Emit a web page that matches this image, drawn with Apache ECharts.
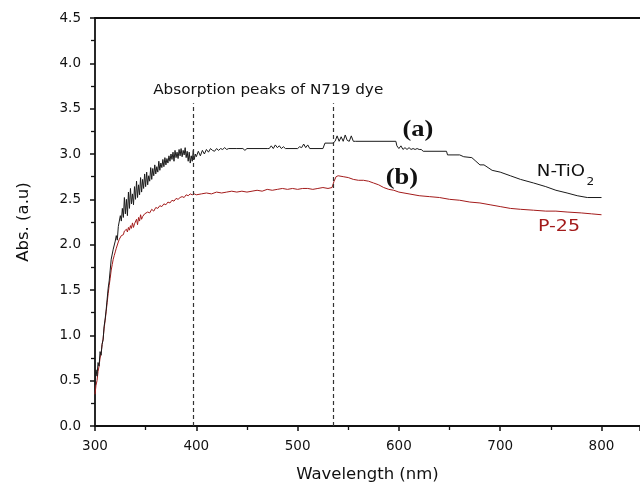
<!DOCTYPE html>
<html>
<head>
<meta charset="utf-8">
<script src="https://cdn.jsdelivr.net/npm/echarts@6/dist/echarts.min.js"></script>
<style>
html,body{margin:0;padding:0;background:#fff;}
#main{width:640px;height:482px;}
</style>
</head>
<body>
<div id="main"></div>
<script>
// N-TiO2 (a) : [wavelength nm, absorbance]
var ntio2_data = [
	[300,0.45],[301,0.62],[302,0.55],[303,0.70],[304,0.66],[305,0.82],[306,0.78],[307,0.90],[308,0.95],[309,1.10],
	[310,1.18],[311,1.28],[312,1.40],[313,1.52],[314,1.60],[315,1.72],[316,1.84],[317,1.82],[318,1.95],[319,1.93],
	[320,2.04],[321,2.10],[322,2.05],[323,2.20],[324,2.18],[325,2.32],[326,2.26],[327,2.40],[328,2.30],[329,2.52],
	[330,2.34],[331,2.50],[332,2.32],[333,2.58],[334,2.40],[335,2.62],[336,2.45],[337,2.56],[338,2.44],[339,2.64],
	[340,2.50],[341,2.70],[342,2.52],[343,2.66],[344,2.55],[345,2.74],[346,2.58],[347,2.72],[348,2.62],[349,2.78],
	[350,2.64],[351,2.80],[352,2.66],[353,2.76],[354,2.70],[355,2.85],[356,2.72],[357,2.84],[358,2.76],[359,2.88],
	[360,2.78],[361,2.86],[362,2.80],[363,2.92],[364,2.82],[365,2.90],[366,2.85],[367,2.94],[368,2.86],[369,2.96],
	[370,2.88],[371,2.95],[372,2.90],[373,2.98],[374,2.92],[375,3.00],[376,2.94],[377,3.02],[378,2.92],[379,3.04],
	[380,2.96],[381,3.02],[382,2.95],[383,3.05],[384,2.98],[385,3.06],[386,2.97],[387,3.04],[388,2.99],[389,3.07],
	[390,2.96],[391,3.03],[392,2.92],[393,3.02],[394,2.90],[395,2.98],[396,2.92],[397,3.04],[398,2.94],[399,3.00],
	[400,2.97],[402,3.03],[404,2.98],[406,3.04],[408,3.00],[410,3.05],[412,3.02],[414,3.06],[416,3.04],[418,3.03],
	[420,3.06],[422,3.04],[424,3.06],[426,3.05],[428,3.07],[430,3.05],[432,3.06],[440,3.06],[446,3.06],[448,3.04],
	[450,3.06],[470,3.06],[472,3.06],[474,3.09],[476,3.06],[478,3.10],[480,3.07],[482,3.09],[484,3.06],[486,3.08],
	[488,3.06],[500,3.06],[502,3.08],[504,3.07],[506,3.11],[508,3.07],[510,3.10],[512,3.06],[525,3.06],[527,3.12],
	[535,3.12],[537,3.14],[539,3.20],[541,3.14],[543,3.19],[545,3.14],[547,3.21],[549,3.15],[551,3.14],[553,3.20],
	[555,3.14],[557,3.14],[597,3.14],[598,3.09],[600,3.06],[602,3.09],[604,3.05],[606,3.07],[608,3.05],[610,3.07],
	[612,3.05],[614,3.06],[616,3.05],[618,3.06],[620,3.05],[622,3.05],[624,3.03],[647,3.03],[648,2.99],[660,2.99],
	[664,2.97],[672,2.96],[676,2.92],[680,2.88],[684,2.88],[688,2.85],[692,2.82],[700,2.80],[710,2.76],[720,2.72],
	[733,2.68],[745,2.64],[755,2.60],[766,2.57],[776,2.54],[786,2.52],[800,2.52]
];
// P-25 (b)
var p25_data = [
	[300,0.35],[301,0.45],[302,0.50],[303,0.60],[304,0.66],[305,0.75],[306,0.80],[307,0.90],[308,0.96],[309,1.08],
	[310,1.16],[311,1.26],[312,1.36],[313,1.46],[314,1.55],[315,1.63],[316,1.72],[317,1.78],[318,1.84],[319,1.88],
	[320,1.92],[321,1.96],[322,1.98],[323,2.03],[324,2.06],[325,2.08],[326,2.10],[327,2.12],[328,2.11],[329,2.15],
	[330,2.13],[331,2.17],[332,2.14],[333,2.19],[334,2.16],[335,2.21],[336,2.18],[337,2.24],[338,2.19],[339,2.23],
	[340,2.21],[341,2.28],[342,2.22],[343,2.30],[344,2.26],[345,2.33],[346,2.28],[347,2.31],[348,2.29],[349,2.34],
	[350,2.32],[352,2.36],[354,2.35],[356,2.39],[358,2.37],[360,2.41],[362,2.40],[364,2.43],[366,2.42],[368,2.45],
	[370,2.44],[372,2.47],[374,2.46],[376,2.49],[378,2.48],[380,2.51],[382,2.50],[384,2.52],[386,2.53],[388,2.52],
	[390,2.55],[392,2.54],[394,2.56],[396,2.55],[398,2.56],[400,2.55],[405,2.56],[410,2.57],[415,2.56],[420,2.58],
	[425,2.57],[430,2.58],[435,2.59],[440,2.58],[445,2.59],[450,2.58],[455,2.59],[460,2.60],[465,2.59],[470,2.61],
	[475,2.60],[480,2.61],[485,2.62],[490,2.61],[495,2.62],[500,2.61],[505,2.62],[510,2.62],[515,2.61],[520,2.62],
	[525,2.63],[530,2.62],[534,2.63],[536,2.70],[538,2.75],[540,2.76],[545,2.75],[550,2.74],[555,2.72],[560,2.71],
	[565,2.71],[570,2.70],[575,2.68],[580,2.66],[585,2.63],[590,2.61],[595,2.60],[600,2.58],[610,2.56],[620,2.54],
	[630,2.53],[640,2.52],[650,2.50],[660,2.49],[670,2.47],[680,2.46],[690,2.44],[700,2.42],[710,2.40],[720,2.39],
	[733,2.38],[745,2.37],[755,2.37],[766,2.36],[780,2.35],[790,2.34],[800,2.33]
];
// dye absorption peaks (nm) and top of dashed lines
var peak_wavelengths = [397, 535];
var peak_line_top = 3.56;
var x_ticks = [300, 400, 500, 600, 700, 800];

var font_family = '"DejaVu Sans", "Liberation Sans", Arial, sans-serif';
var serif_family = '"Liberation Serif", "Times New Roman", serif';
var myChart = echarts.init(document.getElementById("main"));

var option = {
	animation: false,
	grid: { left: 95, right: 0, top: 18, bottom: 56, containLabel: false, outerBoundsMode: "none" },
	xAxis: [{
		type: "value",
		min: 300,
		max: 838,
		interval: 100,
		name: "Wavelength (nm)",
		nameLocation: "middle",
		nameGap: 40,
		nameTextStyle: { fontSize: 16.5, color: "#111", fontFamily: font_family },
		axisLine: { lineStyle: { color: "#111", width: 1.8 } },
		axisTick: { inside: false, length: 5, lineStyle: { color: "#111", width: 1.5 } },
		minorTick: { show: true, splitNumber: 2, length: 4, lineStyle: { color: "#111", width: 1.3 } },
		splitLine: { show: false },
		axisLabel: {
			margin: 13, fontSize: 13.5, color: "#111", fontFamily: font_family,
			formatter: function (v) { return x_ticks.indexOf(v) >= 0 ? String(v) : ""; }
		}
	}, {
		type: "value",
		position: "top",
		min: 300,
		max: 838,
		axisLine: { show: true, onZero: false, lineStyle: { color: "#111", width: 1.8 } },
		axisTick: { show: false },
		axisLabel: { show: false },
		splitLine: { show: false }
	}],
	yAxis: {
		type: "value",
		min: 0,
		max: 4.5,
		interval: 0.5,
		name: "Abs. (a.u)",
		nameLocation: "middle",
		nameGap: 63,
		nameTextStyle: { fontSize: 16.5, color: "#111", fontFamily: font_family },
		axisLine: { show: true, lineStyle: { color: "#111", width: 1.8 } },
		axisTick: { show: true, inside: false, length: 5, lineStyle: { color: "#111", width: 1.5 } },
		minorTick: { show: true, splitNumber: 2, length: 4, lineStyle: { color: "#111", width: 1.3 } },
		splitLine: { show: false },
		axisLabel: {
			margin: 14, fontSize: 13.5, color: "#111", fontFamily: font_family,
			formatter: function (v) { return v.toFixed(1); }
		}
	},
	series: [
		{
			name: "N-TiO2",
			type: "line",
			data: ntio2_data,
			showSymbol: false,
			lineStyle: { color: "#1a1a1a", width: 1 },
			z: 3,
			markLine: {
				silent: true,
				symbol: "none",
				label: { show: false },
				lineStyle: { color: "#333", type: [4, 3], width: 1.2 },
				data: peak_wavelengths.map(function (w) {
					return [{ coord: [w, 0] }, { coord: [w, peak_line_top] }];
				})
			}
		},
		{
			name: "P-25",
			type: "line",
			data: p25_data,
			showSymbol: false,
			lineStyle: { color: "#a31b1b", width: 1 },
			z: 2
		}
	]
};
myChart.setOption(option);

// 注释文字，按数据坐标换算位置
function px(x, y) { return myChart.convertToPixel({ gridIndex: 0 }, [x, y]); }
function note(pos, text, size, color, family, weight, sx) {
	return {
		type: "text", x: pos[0], y: pos[1], scaleX: sx || 1,
		style: { text: text, fontSize: size, fontFamily: family, fontWeight: weight || "normal", fill: color, align: "center", verticalAlign: "middle" }
	};
}
myChart.setOption({
	graphic: [
		note(px(471, 3.70), "Absorption peaks of N719 dye", 14.5, "#111", font_family, "normal", 1.05),
		note(px(618.7, 3.265), "(a)", 23, "#111", serif_family, "bold", 1.15),
		note(px(602.9, 2.735), "(b)", 23, "#111", serif_family, "bold", 1.15),
		note(px(760, 2.80), "N-TiO", 16.5, "#111", font_family, "normal", 1.1),
		note(px(789, 2.69), "2", 11, "#111", font_family, "normal", 1.1),
		note(px(758, 2.20), "P-25", 16.5, "#a31b1b", font_family, "normal", 1.15)
	]
});
</script>
</body>
</html>
